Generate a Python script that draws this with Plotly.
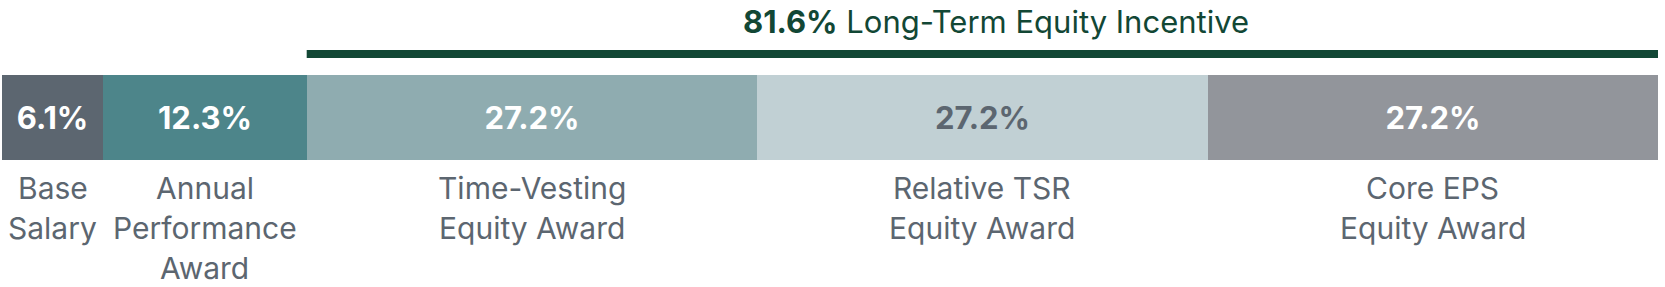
import plotly.graph_objects as go

# ---- data ----
categories = ["Base<br>Salary", "Annual<br>Performance<br>Award",
              "Time-Vesting<br>Equity Award", "Relative TSR<br>Equity Award",
              "Core EPS<br>Equity Award"]
values = [6.1, 12.3, 27.2, 27.2, 27.2]
value_labels = ["6.1%", "12.3%", "27.2%", "27.2%", "27.2%"]
lti_total = 81.6
lti_label = "Long-Term Equity Incentive"

colors = ["#5C6670", "#4D858A", "#8FACB0", "#C1D0D4", "#92959B"]
text_colors = ["#FFFFFF", "#FFFFFF", "#FFFFFF", "#5C6670", "#FFFFFF"]
FONT = "Inter"
GREEN = "#124735"
GRAY = "#5C6670"

fig = go.Figure()
for cat, v, lab, c, tc in zip(categories, values, value_labels, colors, text_colors):
    fig.add_trace(go.Bar(
        x=[v], y=["bar"], orientation="h", name=cat,
        marker=dict(color=c, line=dict(width=0)),
        text=[lab], textposition="inside", insidetextanchor="middle",
        textangle=0, constraintext="none",
        textfont=dict(family=FONT, size=31, color=tc, weight="bold"),
        hoverinfo="skip",
    ))

# category labels under each segment
start = 0.0
line_gap = 40
for cat, v in zip(categories, values):
    center = start + v / 2
    for i, line in enumerate(cat.split("<br>")):
        fig.add_annotation(
            x=center, xref="x", y=0, yref="paper",
            text=line, showarrow=False,
            xanchor="center", yanchor="middle",
            yshift=-28 - i * line_gap,
            font=dict(family=FONT, size=30, color=GRAY),
        )
    start += v

# LTI bracket line + title
lti_start = sum(values) - lti_total
fig.add_shape(type="line", xref="x", yref="paper",
              x0=lti_start, x1=sum(values), y0=1.247, y1=1.247,
              line=dict(color=GREEN, width=8))
fig.add_annotation(
    x=(lti_start + sum(values)) / 2 + 0.8, xref="x", y=1.0, yref="paper",
    yshift=54, yanchor="middle", xanchor="center",
    text=f"<b>{lti_total}%</b> {lti_label}", showarrow=False,
    font=dict(family=FONT, size=31, color=GREEN),
)

fig.update_layout(
    width=1665, height=287,
    margin=dict(l=2, r=7, t=75, b=127),
    barmode="stack", bargap=0,
    showlegend=False,
    paper_bgcolor="white", plot_bgcolor="white",
    xaxis=dict(range=[0, 100], visible=False, fixedrange=True),
    yaxis=dict(range=[-0.5, 0.5], visible=False, fixedrange=True),
    uniformtext=dict(mode=False),
)

fig.write_html("out.html")
